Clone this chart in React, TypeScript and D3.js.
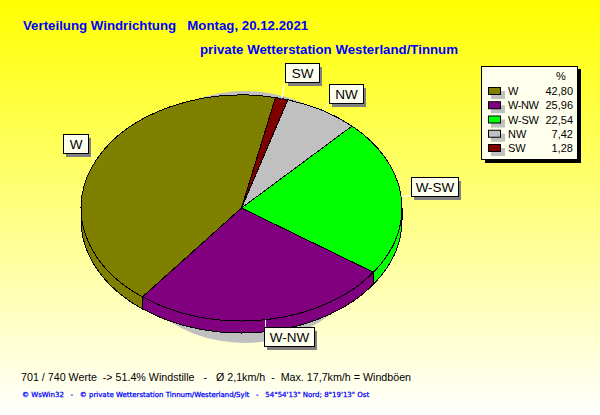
import React from 'react';
import * as d3 from 'd3';

const categories = ['W', 'W-NW', 'W-SW', 'NW', 'SW'];
const shares = [42.8, 25.96, 22.54, 7.42, 1.28];
const shareLabels = ['42,80', '25,96', '22,54', '7,42', '1,28'];
const colors = ['#808000', '#800080', '#00ff00', '#c0c0c0', '#800000'];
const labelBoxes = [
  { x: 63, y: 134, w: 25 },
  { x: 264, y: 327, w: 50 },
  { x: 411, y: 177, w: 47 },
  { x: 329, y: 84, w: 34 },
  { x: 285, y: 63, w: 34 },
];

const W = 600;
const H = 415;
const cx = 241.5;
const cy = 208;
const rx = 160.5;
const ry = 113;
const depth = 12;
const startDeg = 12.2;
const font = '"Liberation Sans", Arial, sans-serif';

const pieGen = d3
  .pie<number>()
  .sort(null)
  .startAngle((startDeg * Math.PI) / 180)
  .endAngle(((startDeg - 360) * Math.PI) / 180);

const arcs = pieGen(shares);
const px = (t: number) => cx + rx * Math.sin(t);
const py = (t: number, dy = 0) => cy - ry * Math.cos(t) + dy;

// top face of a slice, angle runs counter-clockwise on screen
const slicePath = (a0: number, a1: number, dy = 0) =>
  `M${cx},${cy + dy}L${px(a0)},${py(a0, dy)}A${rx},${ry} 0 ${Math.abs(a1 - a0) > Math.PI ? 1 : 0} 0 ${px(a1)},${py(a1, dy)}Z`;

// visible rim below the top face (front half only)
const wallPath = (a0: number, a1: number) => {
  const lo = Math.max(Math.min(a0, a1), -(3 * Math.PI) / 2);
  const hi = Math.min(Math.max(a0, a1), -Math.PI / 2);
  if (hi <= lo) return null;
  return `M${px(hi)},${py(hi)}A${rx},${ry} 0 0 0 ${px(lo)},${py(lo)}L${px(lo)},${py(lo, depth)}A${rx},${ry} 0 0 1 ${px(hi)},${py(hi, depth)}Z`;
};

const App: React.FC = () => {
  const rowY = d3.scalePoint<string>().domain(categories).range([91, 148]);

  return (
    <svg
      width={W}
      height={H}
      style={{ position: 'absolute', left: 0, top: 0 }}
      fontFamily={font}
    >
      <defs>
        <linearGradient id="bg" x1="0" y1="0" x2="0" y2="1">
          <stop offset="0" stopColor="#ffff00" />
          <stop offset="1" stopColor="#ffffff" />
        </linearGradient>
      </defs>
      <rect width={W} height={H} fill="url(#bg)" />

      <text x={23} y={30} fill="#0000ff" fontSize={13.27} fontWeight="bold" xmlSpace="preserve">
        Verteilung Windrichtung{'   '}Montag, 20.12.2021
      </text>
      <text x={200} y={54} fill="#0000ff" fontSize={13.27} fontWeight="bold">
        private Wetterstation Westerland/Tinnum
      </text>

      <ellipse cx={245} cy={217} rx={135} ry={126} fill="#c0c0c0" />

      <g stroke="#000" strokeWidth={1} shapeRendering="crispEdges">
        {arcs.map((d, i) => {
          const p = wallPath(d.startAngle, d.endAngle);
          return p ? <path key={i} d={p} fill={colors[i]} /> : null;
        })}
        {arcs.map((d, i) => (
          <path key={i} d={slicePath(d.startAngle, d.endAngle)} fill={colors[i]} />
        ))}
      </g>

      {arcs.map((d, i) => {
        const mid = (d.startAngle + d.endAngle) / 2;
        const b = labelBoxes[i];
        const bx = Math.max(b.x, Math.min(b.x + b.w, px(mid)));
        const by = Math.max(b.y, Math.min(b.y + 19, py(mid)));
        return (
          <g key={categories[i]}>
            <line x1={px(mid)} y1={py(mid)} x2={bx} y2={by} stroke="#fff" />
            <rect x={b.x + 3} y={b.y + 4} width={b.w} height={19} fill="#808080" />
            <rect x={b.x + 0.5} y={b.y + 0.5} width={b.w} height={19} fill="#ffffee" stroke="#000" />
            <text
              x={b.x + b.w / 2 + 0.5}
              y={b.y + 15}
              fontSize={13.5}
              textAnchor="middle"
              fill="#000"
            >
              {categories[i]}
            </text>
          </g>
        );
      })}

      <rect x={485} y={69} width={96} height={94} fill="#000" />
      <rect x={481.5} y={66.5} width={96} height={93} fill="#ffffee" stroke="#000" />
      <text x={556} y={80} fontSize={11} fill="#000">%</text>
      {categories.map((c, i) => {
        const y = rowY(c)!;
        return (
          <g key={c}>
            <rect x={491} y={y} width={14} height={8} fill="#c0c0c0" />
            <rect x={488.5} y={y - 3.5} width={12} height={7} fill={colors[i]} stroke="#000" />
            <text x={508} y={y + 4} fontSize={11} fill="#000" textLength={c.length > 2 ? 31 : undefined}>{c}</text>
            <text x={573} y={y + 4} fontSize={11} textAnchor="end" fill="#000">{shareLabels[i]}</text>
          </g>
        );
      })}

      <text x={21} y={381} fontSize={10.7} fill="#000" xmlSpace="preserve">
        701 / 740 Werte  -&gt; 51.4% Windstille   -   Ø 2,1km/h  -  Max. 17,7km/h = Windböen
      </text>
      <text
        x={22}
        y={397}
        fontSize={7}
        fill="#0000ff"
        stroke="#0000ff"
        strokeWidth={0.25}
        fontFamily="DejaVu Sans"
        xmlSpace="preserve"
      >
        © WsWin32   -   © private Wetterstation Tinnum/Westerland/Sylt   -   54°54'13" Nord; 8°19'13" Ost
      </text>
    </svg>
  );
};

export default App;
